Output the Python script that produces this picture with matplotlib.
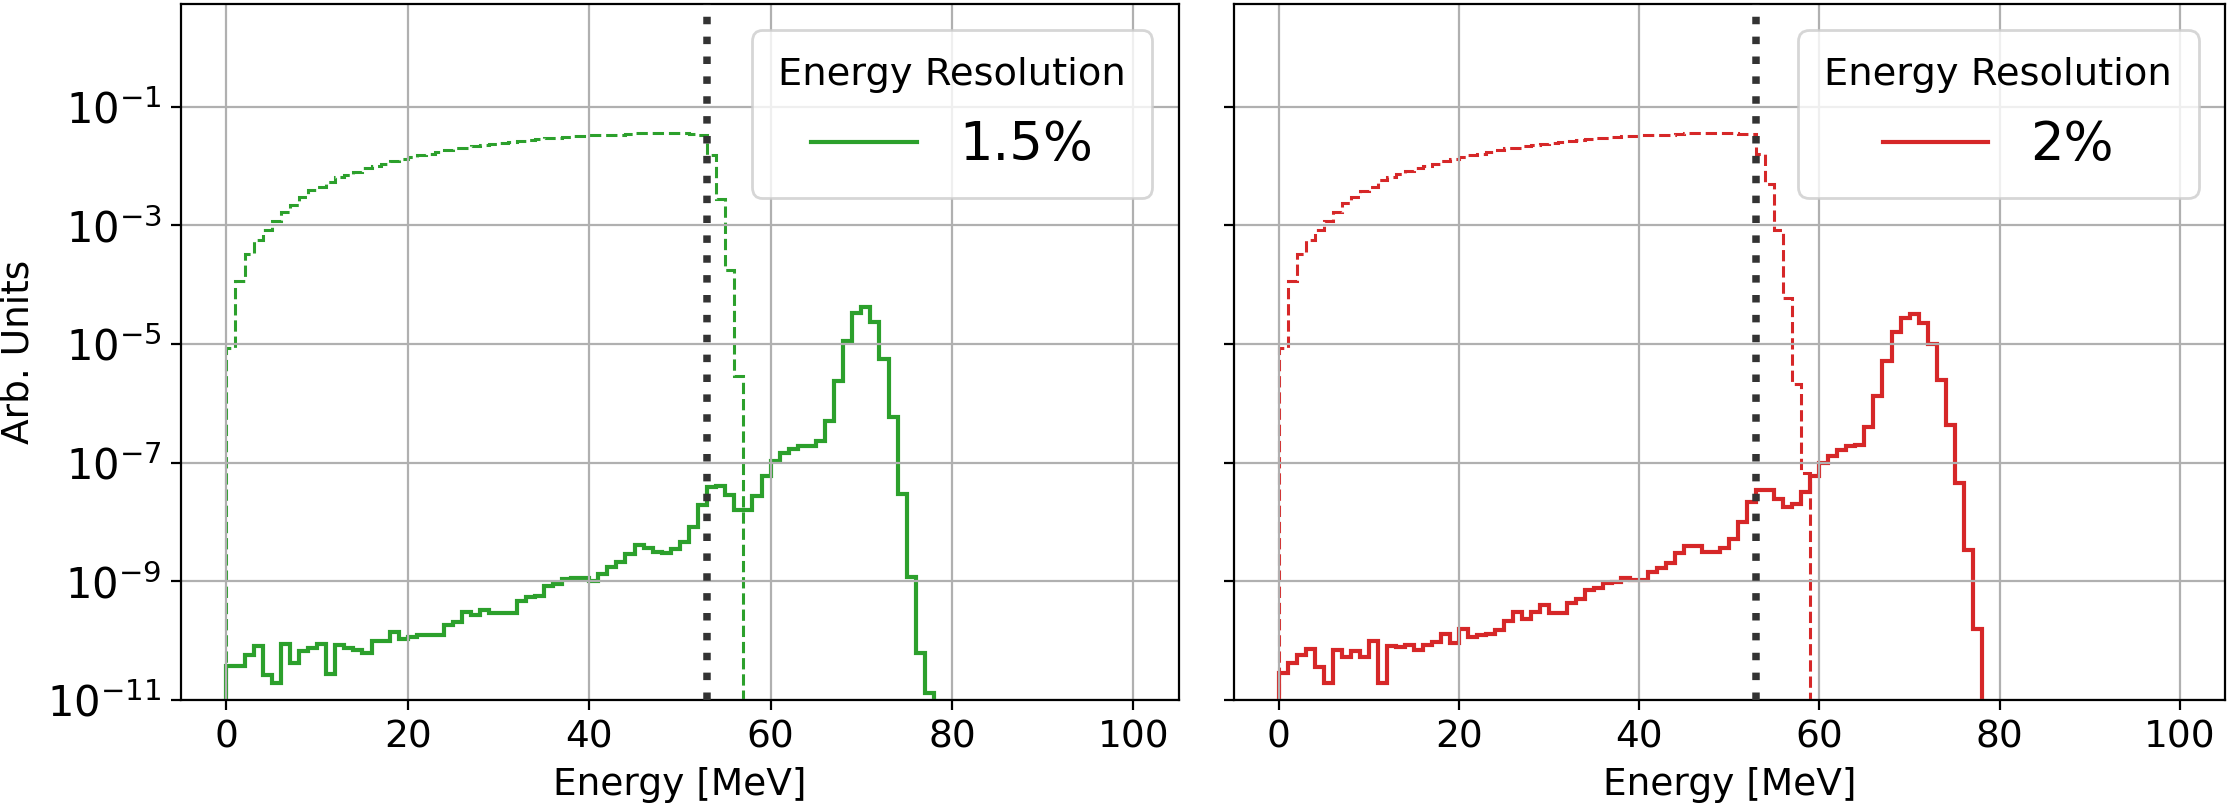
import numpy as np
import matplotlib
matplotlib.use("Agg")
import matplotlib.pyplot as plt
from matplotlib.ticker import NullLocator

plt.rcParams["mathtext.fontset"] = "cm"
plt.rcParams["font.size"] = 13.5

# log10 of bin contents, 1 MeV bins starting at 0 MeV
green_dashed_log = [-5.06, -3.93, -3.48, -3.25, -3.08, -2.92, -2.77, -2.66, -2.52, -2.41,
                    -2.35, -2.27, -2.18, -2.15, -2.10, -2.04, -2.00, -1.96, -1.91, -1.88,
                    -1.85, -1.82, -1.79, -1.76, -1.73, -1.70, -1.69, -1.66, -1.65, -1.63,
                    -1.61, -1.59, -1.57, -1.56, -1.55, -1.53, -1.52, -1.51, -1.50, -1.49,
                    -1.48, -1.48, -1.47, -1.47, -1.46, -1.45, -1.45, -1.45, -1.45, -1.45,
                    -1.45, -1.46, -1.47, -1.82, -2.55, -3.76, -5.54]
green_solid_log = [-10.43, -10.43, -10.25, -10.09, -10.58, -10.71, -10.06, -10.38, -10.18, -10.12,
                   -10.06, -10.56, -10.07, -10.12, -10.15, -10.21, -10.01, -10.01, -9.85, -9.97,
                   -9.94, -9.91, -9.90, -9.90, -9.74, -9.69, -9.52, -9.56, -9.48, -9.53,
                   -9.53, -9.53, -9.33, -9.27, -9.24, -9.08, -9.05, -8.96, -8.95, -8.95,
                   -8.99, -8.88, -8.75, -8.68, -8.54, -8.38, -8.43, -8.50, -8.52, -8.45,
                   -8.34, -8.09, -7.71, -7.41, -7.39, -7.55, -7.79, -7.79, -7.56, -7.22,
                   -6.97, -6.84, -6.77, -6.72, -6.72, -6.63, -6.30, -5.62, -4.95, -4.48,
                   -4.38, -4.63, -5.26, -6.23, -7.53, -8.93, -10.21, -10.89]

red_dashed_log = [-5.06, -3.93, -3.49, -3.25, -3.07, -2.92, -2.77, -2.63, -2.52, -2.42,
                  -2.35, -2.24, -2.18, -2.13, -2.08, -2.04, -2.00, -1.96, -1.91, -1.88,
                  -1.84, -1.82, -1.79, -1.76, -1.73, -1.70, -1.69, -1.66, -1.65, -1.63,
                  -1.61, -1.59, -1.57, -1.56, -1.55, -1.53, -1.52, -1.51, -1.50, -1.49,
                  -1.48, -1.48, -1.47, -1.47, -1.46, -1.45, -1.45, -1.45, -1.45, -1.45,
                  -1.45, -1.46, -1.46, -1.80, -2.31, -3.07, -4.23, -5.68, -7.17]
red_solid_log = [-10.55, -10.38, -10.24, -10.14, -10.44, -10.71, -10.16, -10.27, -10.18, -10.27,
                 -10.01, -10.72, -10.09, -10.10, -10.07, -10.16, -10.07, -10.03, -9.89, -10.04,
                 -9.80, -9.94, -9.90, -9.89, -9.82, -9.67, -9.52, -9.63, -9.52, -9.40,
                 -9.53, -9.53, -9.37, -9.29, -9.15, -9.11, -9.03, -9.01, -8.94, -8.97,
                 -8.97, -8.85, -8.78, -8.69, -8.52, -8.40, -8.40, -8.50, -8.50, -8.43,
                 -8.29, -8.00, -7.66, -7.46, -7.46, -7.62, -7.74, -7.70, -7.50, -7.22,
                 -7.00, -6.88, -6.79, -6.72, -6.70, -6.40, -5.87, -5.28, -4.80, -4.56,
                 -4.50, -4.65, -5.00, -5.60, -6.36, -7.34, -8.48, -9.80]

panels = [
    ("1.5%", "#2ca02c", green_dashed_log, green_solid_log),
    ("2%", "#d62728", red_dashed_log, red_solid_log),
]
cut_energy = 53
bin_width = 1.0

fig = plt.figure(figsize=(2227 / 200, 807 / 200), dpi=200)
ax1 = fig.add_axes([0.0813, 0.1326, 0.4480, 0.8625])
ax2 = fig.add_axes([0.5539, 0.1326, 0.4452, 0.8625], sharey=ax1)

for ax, (label, color, dashed_log, solid_log) in zip([ax1, ax2], panels):
    dashed = 10.0 ** np.array(dashed_log)
    solid = 10.0 ** np.array(solid_log)
    e_dashed = np.arange(len(dashed) + 1) * bin_width
    e_solid = np.arange(len(solid) + 1) * bin_width

    ax.stairs(dashed, e_dashed, baseline=1e-30, color=color, lw=1.1, ls="--")
    ax.stairs(solid, e_solid, baseline=1e-30, color=color, lw=1.5, label=label)
    ax.axvline(cut_energy, color="#333333", ls=":", lw=2.7, zorder=5)

    ax.set_yscale("log")
    ax.set_ylim(1e-11, 5.4)
    ax.set_xlim(-5, 105)
    ax.set_yticks([1e-11, 1e-9, 1e-7, 1e-5, 1e-3, 1e-1])
    ax.yaxis.set_minor_locator(NullLocator())
    ax.set_xticks([0, 20, 40, 60, 80, 100])
    ax.tick_params(axis="y", labelsize=15)
    ax.grid(True)
    ax.set_xlabel("Energy [MeV]")
    leg = ax.legend(title="Energy Resolution", loc="upper right",
                    fontsize=19, title_fontsize=13.8, borderpad=0.5)
    leg.set_zorder(10)

ax1.set_ylabel("Arb. Units")
ax1.yaxis.set_label_coords(-0.145, 0.5)
ax2.tick_params(labelleft=False)

fig.savefig("out.png", dpi=200)
